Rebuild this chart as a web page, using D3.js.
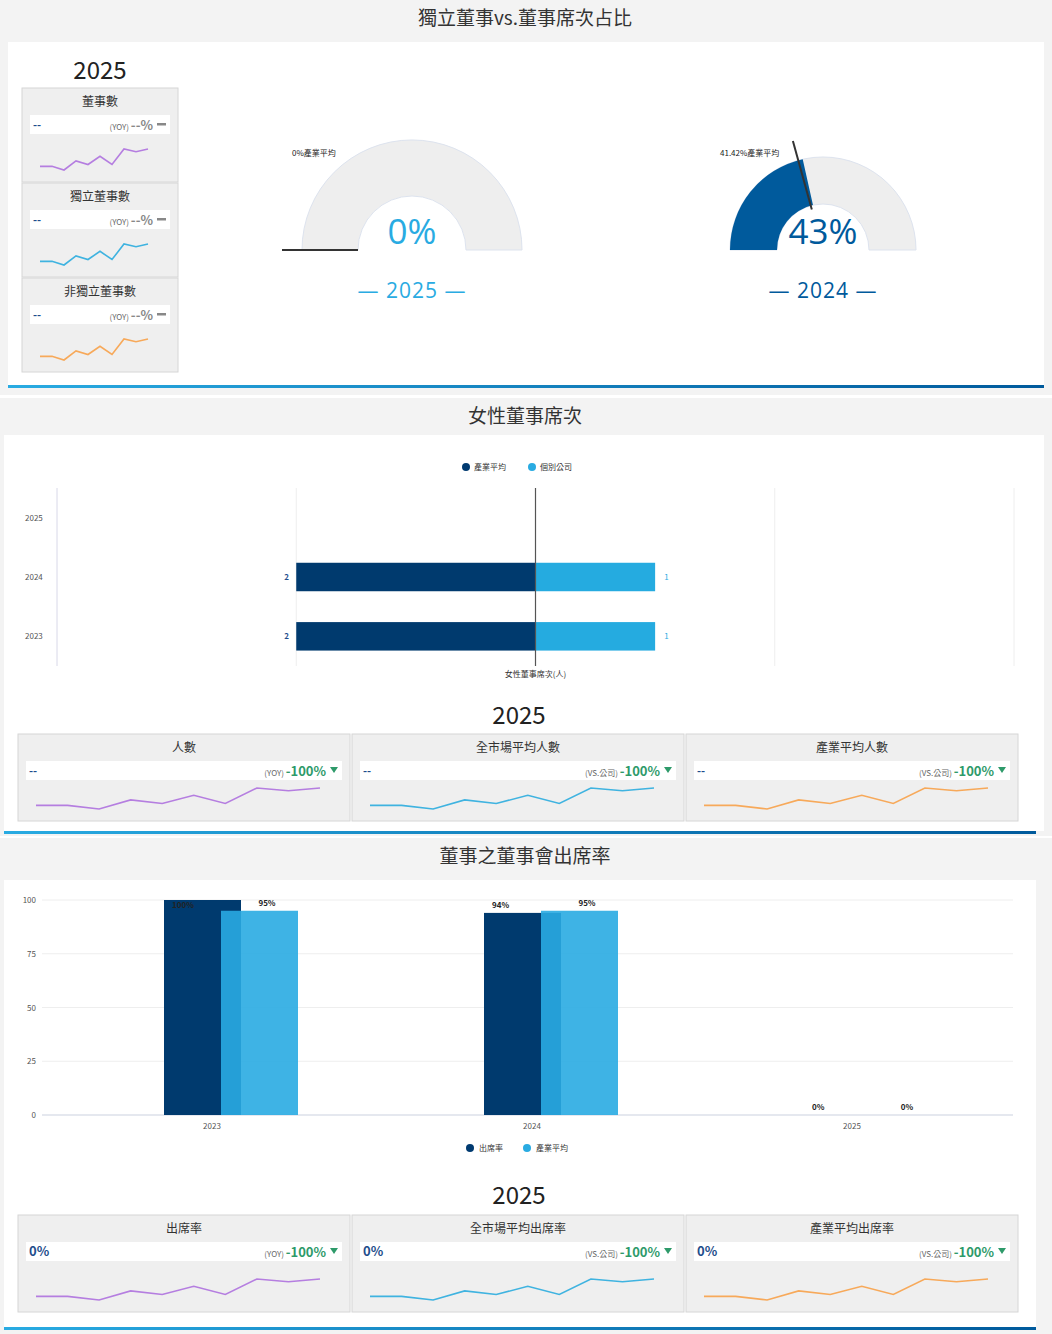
<!DOCTYPE html>
<html><head><meta charset="utf-8">
<script src="https://cdn.jsdelivr.net/npm/d3@7"></script>
<style>body{margin:0;background:#fff;font-family:"Noto Sans CJK TC","Noto Sans",sans-serif}</style>
</head><body><svg id="c" width="1052" height="1334"></svg>
<script>
// data
const sparkVals = [2, 2, 0, 5, 3, 7.5, 3, 11.5, 10, 11.5];
const boardCards = ["董事數", "獨立董事數", "非獨立董事數"];
const boardColors = ["#b57ee0", "#3fb3e0", "#f7a95a"];
const gauges = [
  { year: "2025", value: 0, avg: 0, avgLabel: "0%產業平均", color: "#29abe2" },
  { year: "2024", value: 43, avg: 41.42, avgLabel: "41.42%產業平均", color: "#005a9c" }
];
const womenYears = ["2025", "2024", "2023"];
const womenIndustry = [null, 2, 2];
const womenCompany = [null, 1, 1];
const womenCards = ["人數", "全市場平均人數", "產業平均人數"];
const womenTags = ["(YOY)", "(VS.公司)", "(VS.公司)"];
const attendYears = ["2023", "2024", "2025"];
const attendRate = [100, 94, 0];
const attendAvg = [95, 95, 0];
const attendCards = ["出席率", "全市場平均出席率", "產業平均出席率"];
const yTicks = [0, 25, 50, 75, 100];

const svg = d3.select("#c");
const dark = "#003a70", light = "#29abe2";

const grad = svg.append("defs").append("linearGradient").attr("id", "bl");
grad.append("stop").attr("offset", "0%").attr("stop-color", "#29abe2");
grad.append("stop").attr("offset", "100%").attr("stop-color", "#005a9c");

function panel(y0, h, title) {
  svg.append("rect").attr("x", 0).attr("y", y0).attr("width", 1052).attr("height", h).attr("fill", "#f3f3f3");
  svg.append("text").attr("x", 525).attr("y", y0 + 25).attr("text-anchor", "middle")
    .attr("font-size", 19).attr("fill", "#333").text(title);
}
function blueLine(x0, x1, y) {
  svg.append("rect").attr("x", x0).attr("y", y).attr("width", x1 - x0).attr("height", 3).attr("fill", "url(#bl)");
}

function spark(g, x0, x1, y0, y1, color) {
  const x = d3.scalePoint().domain(d3.range(sparkVals.length)).range([x0, x1]);
  const y = d3.scaleLinear().domain([0, 11.5]).range([y1, y0]);
  g.append("path").datum(sparkVals).attr("fill", "none").attr("stroke", color).attr("stroke-width", 1.6)
    .attr("d", d3.line().x((d, i) => x(i)).y(d => y(d)));
}

function card(x, y, w, h, title, color, val, tag, pct, down, big) {
  const g = svg.append("g");
  g.append("rect").attr("x", x).attr("y", y).attr("width", w).attr("height", h)
    .attr("fill", "#efefef").attr("stroke", "#d6d6d6");
  g.append("text").attr("x", x + w / 2).attr("y", y + 18).attr("text-anchor", "middle")
    .attr("font-size", 12).attr("fill", "#333").text(title);
  g.append("rect").attr("x", x + 8).attr("y", y + 27).attr("width", w - 16).attr("height", 19).attr("fill", "#fff");
  g.append("text").attr("x", x + 11).attr("y", y + 41).attr("font-size", big ? 13 : 11).attr("font-weight", "bold")
    .attr("fill", "#1f4e8c").text(val);
  const pcol = down ? "#2e9a6a" : "#888";
  let rx = x + w - 12;
  if (down) {
    g.append("path").attr("d", `M${rx - 8},${y + 33}h8l-4,6z`).attr("fill", pcol);
    rx -= 12;
  } else {
    g.append("rect").attr("x", rx - 9).attr("y", y + 35).attr("width", 9).attr("height", 2.5).attr("fill", pcol);
    rx -= 13;
  }
  const t = g.append("text").attr("x", rx).attr("y", y + 42).attr("text-anchor", "end").attr("fill", pcol);
  t.append("tspan").attr("font-size", 8).attr("fill", "#666").text(tag + " ");
  t.append("tspan").attr("font-size", 13).attr("font-weight", "bold").text(pct);
  spark(g, x + 18, x + w - 30, y + h - 33, y + h - 12, color);
}

// ---------- section 1
panel(0, 395, "獨立董事vs.董事席次占比");
svg.append("rect").attr("x", 8).attr("y", 42).attr("width", 1036).attr("height", 344).attr("fill", "#fff");
blueLine(8, 1044, 385);
svg.append("text").attr("x", 100).attr("y", 79).attr("text-anchor", "middle").attr("font-size", 24).attr("fill", "#222").text("2025");
boardCards.forEach((t, i) => card(22, 88 + i * 95, 156, 94, t, boardColors[i], "--", "(YOY)", "--%", false, false));

const gpos = [{ cx: 412, r: 110, ri: 54 }, { cx: 823, r: 93, ri: 46 }];
gauges.forEach((d, i) => {
  const p = gpos[i], cy = 250;
  const g = svg.append("g").attr("transform", `translate(${p.cx},${cy})`);
  const a = d3.scaleLinear().domain([0, 100]).range([-Math.PI / 2, Math.PI / 2]);
  const arc = d3.arc().innerRadius(p.ri).outerRadius(p.r);
  g.append("path").attr("d", arc({ startAngle: a(0), endAngle: a(100) })).attr("fill", "#eeeeee").attr("stroke", "#dde3ee");
  if (d.value > 0) g.append("path").attr("d", arc({ startAngle: a(0), endAngle: a(d.value) })).attr("fill", d.color);
  const ang = a(d.avg);
  const r0 = d.avg === 0 ? p.ri : p.ri - 4, r1 = p.r + 20;
  g.append("line").attr("x1", Math.sin(ang) * r0).attr("y1", -Math.cos(ang) * r0)
    .attr("x2", Math.sin(ang) * r1).attr("y2", -Math.cos(ang) * r1).attr("stroke", "#333").attr("stroke-width", 2);
  g.append("text").attr("x", -p.r - 10).attr("y", -94).attr("font-size", 8).attr("fill", "#222").text(d.avgLabel);
  g.append("text").attr("x", 0).attr("y", -6).attr("text-anchor", "middle").attr("font-size", 35)
    .attr("font-family", "Open Sans").attr("fill", d.color).text(d.value + "%");
  g.append("text").attr("x", 0).attr("y", 48).attr("text-anchor", "middle").attr("font-size", 21)
    .attr("font-family", "Open Sans").attr("letter-spacing", 1).attr("fill", d.color).text("— " + d.year + " —");
});

// ---------- section 2
panel(398, 438, "女性董事席次");
svg.append("rect").attr("x", 4).attr("y", 435).attr("width", 1040).attr("height", 396).attr("fill", "#fff");
blueLine(4, 1036, 831);
[["產業平均", dark, 466], ["個別公司", light, 532]].forEach(([t, c, x]) => {
  svg.append("circle").attr("cx", x).attr("cy", 467).attr("r", 4).attr("fill", c);
  svg.append("text").attr("x", x + 8).attr("y", 470).attr("font-size", 8).attr("fill", "#333").text(t);
});
const wx = d3.scaleLinear().domain([-4, 4]).range([57, 1014]);
const wy = d3.scaleBand().domain(womenYears).range([488, 666]).paddingInner(0.52).paddingOuter(0.26);
const wg = svg.append("g");
[-4, -2, 2, 4].forEach(v => wg.append("line").attr("x1", wx(v)).attr("x2", wx(v)).attr("y1", 488).attr("y2", 666)
  .attr("stroke", v === -4 ? "#d8d8e8" : "#eeeeee"));
womenYears.forEach((yr, i) => {
  const yc = wy(yr) + wy.bandwidth() / 2;
  wg.append("text").attr("x", 25).attr("y", yc + 3).attr("font-size", 8).attr("fill", "#555").text(yr);
  if (womenIndustry[i] != null) {
    wg.append("rect").attr("x", wx(-womenIndustry[i])).attr("y", wy(yr)).attr("width", wx(0) - wx(-womenIndustry[i]))
      .attr("height", wy.bandwidth()).attr("fill", "#003a6e");
    wg.append("text").attr("x", wx(-womenIndustry[i]) - 12).attr("y", yc + 3).attr("font-size", 8).attr("font-weight", "bold")
      .attr("fill", "#1f4e8c").text(womenIndustry[i]);
  }
  if (womenCompany[i] != null) {
    wg.append("rect").attr("x", wx(0)).attr("y", wy(yr)).attr("width", wx(womenCompany[i]) - wx(0))
      .attr("height", wy.bandwidth()).attr("fill", "#25abe0");
    wg.append("text").attr("x", wx(womenCompany[i]) + 9).attr("y", yc + 3).attr("font-size", 8).attr("fill", "#29abe2").text(womenCompany[i]);
  }
});
wg.append("line").attr("x1", wx(0)).attr("x2", wx(0)).attr("y1", 488).attr("y2", 666).attr("stroke", "#555").attr("stroke-width", 1.2);
wg.append("text").attr("x", wx(0)).attr("y", 677).attr("text-anchor", "middle").attr("font-size", 8).attr("fill", "#333").text("女性董事席次(人)");
svg.append("text").attr("x", 519).attr("y", 724).attr("text-anchor", "middle").attr("font-size", 24).attr("fill", "#222").text("2025");
womenCards.forEach((t, i) => card(18 + i * 334, 734, 332, 87, t, boardColors[i], "--", womenTags[i], "-100%", true, false));

// ---------- section 3
panel(838, 496, "董事之董事會出席率");
svg.append("rect").attr("x", 4).attr("y", 880).attr("width", 1032).attr("height", 448).attr("fill", "#fff");
blueLine(4, 1036, 1327);
const ay = d3.scaleLinear().domain([0, 100]).range([1115, 900]);
const ax = d3.scaleBand().domain(attendYears).range([52, 1012]);
const ag = svg.append("g");
yTicks.forEach(v => {
  ag.append("line").attr("x1", 42).attr("x2", 1013).attr("y1", ay(v)).attr("y2", ay(v)).attr("stroke", v ? "#eeeeee" : "#dde0ea").attr("stroke-width", v ? 1 : 1.5);
  ag.append("text").attr("x", 36).attr("y", ay(v) + 3).attr("text-anchor", "end").attr("font-size", 8).attr("fill", "#555").text(v);
});
attendYears.forEach((yr, i) => {
  const c = ax(yr) + ax.bandwidth() / 2;
  ag.append("text").attr("x", c).attr("y", 1129).attr("text-anchor", "middle").attr("font-size", 8).attr("fill", "#555").text(yr);
  const x1 = c - 48, x2 = c + 9, bw = 77;
  ag.append("rect").attr("x", x1).attr("y", ay(attendRate[i])).attr("width", bw).attr("height", ay(0) - ay(attendRate[i])).attr("fill", "#003a6e");
  ag.append("rect").attr("x", x2).attr("y", ay(attendAvg[i])).attr("width", bw).attr("height", ay(0) - ay(attendAvg[i]))
    .attr("fill", "#29abe2").attr("fill-opacity", 0.9);
  ag.append("text").attr("x", x1 + 8).attr("y", ay(attendRate[i]) + (attendRate[i] >= 100 ? 8 : -5)).attr("font-size", 8)
    .attr("font-weight", "bold").attr("fill", "#222").text(attendRate[i] + "%");
  ag.append("text").attr("x", x2 + 46).attr("y", ay(attendAvg[i]) - 5).attr("text-anchor", "middle").attr("font-size", 8)
    .attr("font-weight", "bold").attr("fill", "#222").text(attendAvg[i] + "%");
});
[["出席率", dark, 470], ["產業平均", light, 527]].forEach(([t, c, x]) => {
  svg.append("circle").attr("cx", x).attr("cy", 1148).attr("r", 4).attr("fill", c);
  svg.append("text").attr("x", x + 9).attr("y", 1151).attr("font-size", 8).attr("fill", "#333").text(t);
});
svg.append("text").attr("x", 519).attr("y", 1204).attr("text-anchor", "middle").attr("font-size", 24).attr("fill", "#222").text("2025");
attendCards.forEach((t, i) => card(18 + i * 334, 1215, 332, 97, t, boardColors[i], "0%", womenTags[i], "-100%", true, true));
</script></body></html>
